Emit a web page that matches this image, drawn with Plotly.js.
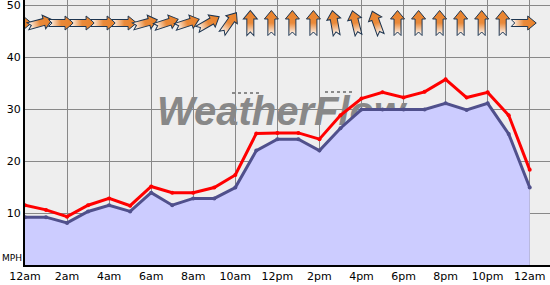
<!DOCTYPE html>
<html>
<head>
<meta charset="utf-8">
<script src="https://cdn.plot.ly/plotly-3.0.1.min.js"></script>
<style>html,body{margin:0;padding:0;background:#fff;}#chart{width:550px;height:285px;}</style>
</head>
<body>
<div id="chart"></div>
<script>
// Hours of the day (0 = midnight ... 24 = next midnight)
var hours = [0,1,2,3,4,5,6,7,8,9,10,11,12,13,14,15,16,17,18,19,20,21,22,23,24];
// Average wind speed (MPH)
var avgWind = [9.2,9.2,8.1,10.3,11.5,10.3,13.9,11.5,12.8,12.8,14.9,22.0,24.2,24.2,22.0,26.3,29.9,29.9,29.9,29.9,31.1,29.8,31.1,25.2,14.9];
// Gust wind speed (MPH)
var gustWind = [11.5,10.6,9.3,11.5,12.8,11.4,15.1,13.9,13.9,14.9,17.3,25.3,25.4,25.4,24.2,28.8,32.0,33.2,32.2,33.3,35.7,32.2,33.2,28.8,18.3];
// Direction the wind arrow points (degrees clockwise from up)
var arrowAngle = [90,75,90,90,90,90,75,72,72,60,35,0,0,0,0,-10,-14,-20,0,0,0,0,0,0,90];
// Axis ticks
var xTickVals = [0,2,4,6,8,10,12,14,16,18,20,22,24];
var xTickText = ['12am','2am','4am','6am','8am','10am','12pm','2pm','4pm','6pm','8pm','10pm','12am'];
var yTickVals = [10,20,30,40,50];

var W = 550, H = 285, ML = 25, MB = 20;
var plotW = W - ML, plotH = H - MB;
var pxPerHour = 21.03, pxPerUnit = 5.2;
var xMax = plotW / pxPerHour, yMax = plotH / pxPerUnit;
function px2x(p) { return (p - ML) / plotW; }
function py2y(p) { return (plotH - p) / plotH; }

function arrowSvg(angle) {
  var s = '<svg xmlns="http://www.w3.org/2000/svg" width="28" height="28" viewBox="0 0 28 28">' +
    '<defs><linearGradient id="g" gradientUnits="userSpaceOnUse" x1="0" y1="2" x2="0" y2="26">' +
    '<stop offset="0" stop-color="#e8822c"/><stop offset="0.5" stop-color="#ea8a3a"/><stop offset="1" stop-color="#ffffff"/></linearGradient></defs>' +
    '<g transform="rotate(' + angle + ' 14 14)">' +
    '<path d="M14,1.5 L21,10 L17.5,10 L17.5,26.5 L14,23 L10.5,26.5 L10.5,10 L7,10 Z" fill="url(#g)" stroke="#1d3550" stroke-width="1" stroke-linejoin="miter"/>' +
    '</g></svg>';
  return 'data:image/svg+xml;charset=utf-8,' + encodeURIComponent(s);
}

var images = hours.map(function (h, i) {
  return {
    source: arrowSvg(arrowAngle[i]),
    xref: 'x', yref: 'paper',
    x: h - 6 / pxPerHour, y: py2y(23),
    sizex: 28 / pxPerHour, sizey: 28 / plotH,
    xanchor: 'center', yanchor: 'middle',
    sizing: 'stretch', layer: 'above'
  };
});

var shapes = [
  {
    type: 'rect', xref: 'paper', yref: 'paper', layer: 'below',
    x0: px2x(156), x1: px2x(406), y0: py2y(125), y1: py2y(89),
    line: {width: 0}, fillcolor: 'rgba(0,0,0,0)',
    label: {
      text: 'WeatherFlow', textposition: 'middle center',
      font: {family: 'Liberation Sans, Arial, sans-serif', size: 40, color: '#888888', weight: 'bold', style: 'italic'}
    }
  },
  {
    type: 'line', xref: 'paper', yref: 'paper', layer: 'below',
    x0: px2x(232), x1: px2x(262), y0: py2y(93), y1: py2y(93),
    line: {color: '#8a8a8a', width: 2, dash: 'dot'}
  },
  {
    type: 'line', xref: 'paper', yref: 'paper', layer: 'below',
    x0: px2x(325), x1: px2x(353), y0: py2y(92), y1: py2y(92),
    line: {color: '#8a8a8a', width: 2, dash: 'dot'}
  }
];

var traces = [
  {
    x: hours, y: avgWind, type: 'scatter', mode: 'lines+markers',
    fill: 'tozeroy', fillcolor: '#ccccff',
    line: {color: '#50508c', width: 3},
    marker: {color: '#50508c', size: 4},
    hoverinfo: 'skip', showlegend: false
  },
  {
    x: hours, y: gustWind, type: 'scatter', mode: 'lines+markers',
    line: {color: '#ff0000', width: 3},
    marker: {color: '#ff0000', size: 4},
    hoverinfo: 'skip', showlegend: false
  }
];

var tickFont = {family: 'DejaVu Sans, Verdana, sans-serif', size: 11, color: '#000'};
var layout = {
  width: W, height: H,
  margin: {l: ML, r: 0, t: 0, b: MB, pad: 0},
  paper_bgcolor: '#ffffff', plot_bgcolor: '#eeeeee',
  showlegend: false,
  font: tickFont,
  xaxis: {
    range: [0, xMax], tickmode: 'array', tickvals: xTickVals, ticktext: xTickText,
    showgrid: true, gridcolor: '#888888', gridwidth: 1,
    showline: true, linecolor: '#000', linewidth: 2, zeroline: false,
    ticks: '', tickfont: tickFont, ticklabeloverflow: 'allow', fixedrange: true
  },
  yaxis: {
    range: [0, yMax], tickmode: 'array', tickvals: yTickVals,
    showgrid: true, gridcolor: '#888888', gridwidth: 1,
    showline: true, linecolor: '#000', linewidth: 2, zeroline: false,
    ticks: '', tickfont: tickFont, ticklabeloverflow: 'allow', fixedrange: true
  },
  images: images,
  shapes: shapes,
  annotations: [{
    text: 'MPH', xref: 'paper', yref: 'paper', x: px2x(0), y: py2y(257.5),
    xanchor: 'left', yanchor: 'middle', showarrow: false,
    font: {family: 'DejaVu Sans, Verdana, sans-serif', size: 9, color: '#000'}
  }]
};

Plotly.newPlot('chart', traces, layout, {displayModeBar: false, staticPlot: true});
</script>
</body>
</html>
